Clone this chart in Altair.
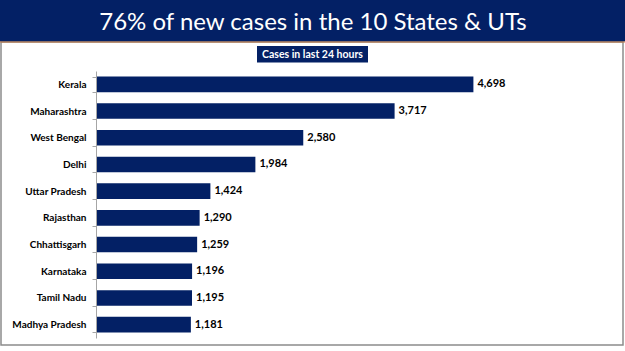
import altair as alt
import pandas as pd

states = ["Kerala", "Maharashtra", "West Bengal", "Delhi", "Uttar Pradesh",
          "Rajasthan", "Chhattisgarh", "Karnataka", "Tamil Nadu", "Madhya Pradesh"]
cases = [4698, 3717, 2580, 1984, 1424, 1290, 1259, 1196, 1195, 1181]

title_text = "76% of new cases in the 10 States & UTs"
subtitle_text = "Cases in last 24 hours"

NAVY = "#032065"
FONT = "Lato"

df = pd.DataFrame({"state": states, "cases": cases})
one = pd.DataFrame({"k": [0]})

# plot area origin is at (96, 71) in the page
OX, OY = 96, 71

y_enc = alt.Y("state:N", sort=states,
              scale=alt.Scale(paddingInner=0.415, paddingOuter=0.2075),
              axis=alt.Axis(title=None, tickBand="extent", tickSize=4,
                            tickColor="#a6a6a6", domainColor="#a6a6a6",
                            labelFont=FONT, labelFontWeight="bold",
                            labelFontSize=10, labelColor="#000000",
                            labelPadding=6, zindex=2))
x_enc = alt.X("cases:Q", scale=alt.Scale(domain=[0, 6000]), axis=None)

bars = alt.Chart(df).mark_bar(color=NAVY).encode(x=x_enc, y=y_enc)
labels = alt.Chart(df).mark_text(align="left", baseline="middle", dx=4,
                                 font=FONT, fontWeight="bold", fontSize=11,
                                 color="#000000").encode(
    x=x_enc, y=y_enc, text=alt.Text("cases:Q", format=","))

border = alt.Chart(one).mark_rect(fill="white", stroke="#8c8c8c", strokeWidth=1.5).encode(
    x=alt.value(1 - OX), x2=alt.value(623 - OX),
    y=alt.value(42 - OY), y2=alt.value(345 - OY))
banner = alt.Chart(one).mark_rect(color=NAVY).encode(
    x=alt.value(0 - OX), x2=alt.value(625 - OX),
    y=alt.value(0 - OY), y2=alt.value(41.5 - OY))
orange = alt.Chart(one).mark_rule(color="#c87a43", strokeWidth=1).encode(
    x=alt.value(0 - OX), x2=alt.value(625 - OX), y=alt.value(42 - OY))
title = alt.Chart(one).mark_text(text=title_text, font=FONT, fontSize=24,
                                 color="white", align="center",
                                 baseline="alphabetic").encode(
    x=alt.value(313 - OX), y=alt.value(30 - OY))
subbox = alt.Chart(one).mark_rect(color=NAVY).encode(
    x=alt.value(257 - OX), x2=alt.value(368 - OX),
    y=alt.value(46 - OY), y2=alt.value(62.5 - OY))
subtitle = alt.Chart(one).mark_text(text=subtitle_text, font=FONT, fontSize=10.5,
                                    fontWeight="bold", color="white",
                                    align="center", baseline="middle").encode(
    x=alt.value(312.5 - OX), y=alt.value(54.5 - OY))

chart = alt.layer(border, banner, orange, title, subbox, subtitle, bars, labels).properties(
    width=482, height=267,
    padding={"left": OX, "top": OY, "right": 625 - OX - 482, "bottom": 351 - OY - 267},
    autosize=alt.AutoSizeParams(type="none"),
).configure_view(stroke=None).configure(background="white")

chart.save("out.html", embed_options={"renderer": "svg", "actions": False})
